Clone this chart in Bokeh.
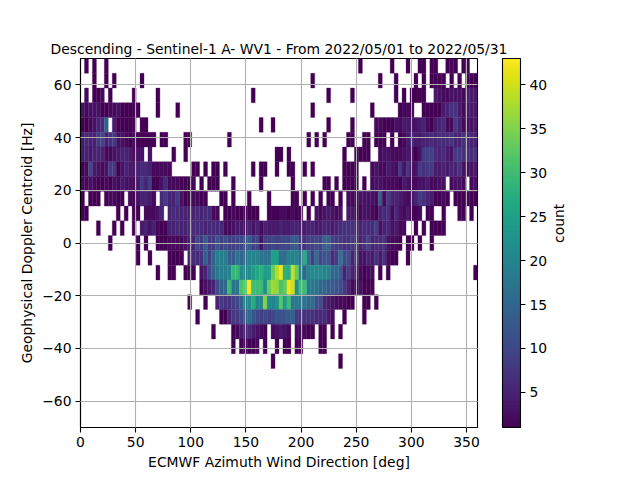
import math
import numpy as np
from bokeh.embed import file_html
from bokeh.resources import INLINE
from bokeh.plotting import figure
from bokeh.models import (ColorBar, ColumnDataSource, FixedTicker, LinearAxis,
                          LinearColorMapper)
from bokeh.palettes import Viridis256

X_TICKS = [0, 50, 100, 150, 200, 250, 300, 350]
Y_TICKS = [-60, -40, -20, 0, 20, 40, 60]
CBAR_TICKS = [5, 10, 15, 20, 25, 30, 35, 40]
TITLE = "Descending - Sentinel-1 A- WV1 - From 2022/05/01 to 2022/05/31"
XLABEL = "ECMWF Azimuth Wind Direction [deg]"
YLABEL = "Geophysical Doppler Centroid [Hz]"
CBAR_LABEL = "count"

x_min, x_max, n_x = 0, 360, 100
y_min, y_max, n_y = -70, 70, 25

# counts by row, from the top row of bins downwards; 0 = empty bin
Z0 = [0]*10
row_00 = [0,1,0,1,0,0,1,0,0,0]+Z0*6+[1,0,0,0,0,0,0,0,1,0, 0,0,1,0,0,1,1,0,1,1, 0,0,1,2,1,0,1,1,0,0]
row_01 = [0,0,0,1,0,0,1,0,1,0, 0,0,0,0,0,1,0,0,0,0]+Z0*3+[0,0,0,0,0,0,0,0,1,0]+Z0+[0,0,0,0,0,1,0,0,0,1, 0,0,0,0,1,0,1,0,1,1, 1,1,0,1,0,1,0,1,1,1]
row_02 = [0,2,0,1,1,2,0,1,0,0, 0,0,0,1,0,0,0,0,0,1]+Z0*2+[0,0,0,1,0,0,0,0,0,0]+Z0+[0,0,1,0,0,0,0,0,1,0, 0,0,0,0,0,0,0,0,0,1, 0,1,0,1,1,1,1,0,0,4, 3,2,2,3,3,3,2,4,4,4]
row_03 = [3,2,3,3,3,1,1,2,2,3, 1,1,1,1,1,0,0,0,0,1, 0,0,0,0,1,0,0,0,0,0]+Z0*2+[0,0,0,0,0,0,0,0,1,0]+Z0+[0,0,0,1,0,0,0,0,0,0, 1,2,2,1,0,0,1,1,1,1, 1,4,5,7,7,4,2,3,4,4]
row_04 = [1,1,2,3,5,6,14,0,4,1, 1,1,1,1,0,1,1,0,0,0]+Z0*2+[0,0,0,0,0,1,0,0,1,0]+Z0+[0,0,1,0,0,0,0,0,1,0, 0,0,0,0,2,2,1,1,1,3, 2,4,4,3,3,4,5,2,1,4, 5,6,2,2,8,5,2,2,3,4]
row_05 = [4,6,5,5,8,10,5,7,8,3, 3,2,1,2,1,1,1,1,1,0, 1,1,0,0,0,0,1,1,0,0, 0,0,0,0,0,0,0,1,0,0]+Z0+[0,0,0,0,0,0,0,1,0,1, 0,1,0,0,0,0,0,1,1,0, 0,1,1,0,1,1,1,0,1,0, 1,2,4,6,4,4,5,5,6,5, 6,6,6,7,5,5,7,5,5,5]
row_06 = [4,5,4,5,5,5,2,2,3,4, 5,5,4,2,3,3,0,3,0,0, 0,0,0,1,0,0,1,0,0,0]+Z0+[0,0,0,0,0,0,0,0,0,1, 1,0,1,0,0,0,0,0,0,0, 0,0,0,0,0,0,1,0,0,1, 1,1,1,0,0,2,3,3,2,2, 2,3,4,3,1,3,8,9,9,6, 5,6,4,3,8,8,7,6,6,7]
row_07 = [1,2,10,4,3,2,3,8,8,1, 3,5,4,3,5,6,6,5,2,2, 2,2,2,0,0,0,0,0,1,1, 0,1,0,1,1,0,1,0,0,0, 0,0,0,1,0,1,1,0,0,1, 0,0,1,1,0,0,1,0,1,0, 0,0,0,0,0,0,1,1,1,1, 0,0,0,2,3,2,2,4,3,2, 8,3,8,3,3,8,7,8,8,4, 4,5,4,5,5,7,3,2,3,4]
row_08 = [2,2,3,2,1,1,2,1,3,2, 4,3,3,2,4,8,5,9,1,1, 3,6,2,2,2,1,1,1,2,0, 1,0,1,1,1,0,0,0,1,0, 0,0,0,0,0,1,0,0,0,0, 0,0,0,1,0,0,0,0,0,0, 0,1,1,0,1,0,1,1,1,1, 0,1,0,2,3,3,2,2,2,2, 1,4,3,2,2,3,3,4,2,2, 3,3,0,2,3,3,2,0,2,3]
row_09 = [1,0,1,1,1,0,1,2,2,1, 1,0,2,1,3,5,5,4,2,0, 6,8,5,5,8,3,1,1,2,2, 1,1,0,0,0,1,1,0,1,0, 0,0,1,0,0,0,0,1,0,0, 0,0,0,1,1,0,1,0,1,0, 1,0,1,1,0,1,0,2,2,2, 3,3,3,3,2,13,2,8,5,5, 4,3,2,3,5,8,7,5,4,1, 1,2,1,0,1,1,1,1,1,1]
row_10 = [1,1,0,0,0,0,0,0,0,1, 0,1,0,1,1,0,2,2,2,3, 5,0,5,6,6,5,5,5,5,6, 5,6,6,2,2,0,1,1,2,1, 1,2,1,1,1,0,0,1,1,1, 2,2,1,2,1,1,0,1,0,3, 2,3,4,3,2,3,0,4,4,2, 2,3,3,2,1,5,6,7,2,6, 3,2,4,1,1,2,0,1,1,0, 0,1,0,0,0,1,1,0,1,0]
row_11 = [0,0,0,0,1,0,0,0,1,0, 1,0,0,1,0,4,5,3,5,2, 1,1,5,5,6,5,5,6,6,6, 6,5,6,6,6,6,2,2,3,4, 4,3,5,3,5,2,5,4,4,4, 5,4,4,5,5,4,4,5,5,4, 4,5,5,4,5,6,7,7,7,5, 5,6,6,6,9,3,5,6,3,4, 2,2,0,0,1,0,1,0,1,1, 1,1,0,0,0,0,0,0,0,0]
row_12 = [0,0,0,0,0,0,0,1,0,0, 0,0,0,0,1,0,1,0,0,1, 1,1,2,2,2,2,3,4,5,10, 8,13,8,8,12,9,11,9,9,10, 10,11,13,9,10,3,9,9,10,9, 10,10,10,13,13,8,7,9,9,10, 9,14,14,9,8,8,7,7,8,7, 5,6,9,5,6,6,7,3,2,2, 1,0,1,1,0,1,0,0,1,0]+Z0
row_13 = Z0+[0,0,0,0,1,0,0,1,0,0, 0,0,1,1,1,1,0,5,6,6, 7,14,9,14,19,19,19,13,13,17, 15,15,20,20,20,17,17,17,25,25, 16,16,20,20,20,16,27,16,9,16, 10,12,12,6,8,17,11,11,5,9, 3,3,5,4,7,4,7,2,1,1, 0,0,1,0,0,0,0,0,0,0]+Z0
row_14 = Z0+[0,0,0,0,0,0,0,0,0,1, 0,0,1,1,0,0,1,1,1,0, 3,5,10,14,18,19,19,20,29,29, 21,21,21,24,26,28,24,24,33,38, 42,28,27,39,33,20,15,20,21,21, 21,20,20,15,15,14,5,9,5,5, 2,1,2,2,0,1,0,1,0,0]+Z0+[0,0,0,0,0,0,0,0,0,1]
row_15 = Z0*3+[1,3,4,5,11,14,15,30,17,17, 31,32,43,30,30,30,22,33,37,36, 31,33,42,40,22,30,30,18,18,17, 15,15,13,13,12,11,8,5,2,2, 3,1,1,1,0,0,0,0,0,0]+Z0*2
row_16 = Z0*2+[0,0,0,0,0,0,0,1,0,0, 0,1,0,0,5,8,7,7,9,10, 14,20,21,27,20,20,35,21,20,22, 32,24,30,18,18,17,17,15,16,11, 11,5,4,3,2,2,2,1,1,0, 0,1,1,0,1,0,0,0,0,0]+Z0*2
row_17 = Z0*2+[0,0,0,0,0,0,0,0,0,1, 0,0,0,0,0,1,1,5,8,8, 10,12,16,12,10,9,10,9,10,12, 12,12,13,14,8,7,7,7,7,6, 6,6,4,2,0,0,1,0,0,0, 0,1,0,0,0,0,0,0,0,0]+Z0*2
row_18 = Z0*3+[0,0,0,1,0,0,0,0,1,2, 4,5,6,4,3,2,1,0,2,3, 4,3,2,0,2,2,2,1,1,0, 1,1,0,1,0,1,0,0,0,0]+Z0*3
row_19 = Z0*3+[0,0,0,0,0,0,0,0,1,0, 1,2,1,1,2,0,1,0,0,1, 0,1,1,0,1,1,0,0,0,0, 1,1,0,0,0,0,0,0,0,0]+Z0*3
row_20 = Z0*4+[0,0,0,0,0,0,0,0,1,0]+Z0+[0,0,0,0,0,1,0,0,0,0]+Z0*3
row_21 = Z0*10
row_22 = Z0*10
row_23 = Z0*10
row_24 = Z0*10

rows = [row_00, row_01, row_02, row_03, row_04, row_05, row_06, row_07, row_08,
        row_09, row_10, row_11, row_12, row_13, row_14, row_15, row_16, row_17,
        row_18, row_19, row_20, row_21, row_22, row_23, row_24]

x_edges = np.linspace(x_min, x_max, n_x + 1)
y_edges = np.linspace(y_max, y_min, n_y + 1)

left, right, top, bottom, count = [], [], [], [], []
for r, row in enumerate(rows):
    assert len(row) == n_x, (r, len(row))
    for c, v in enumerate(row):
        if v > 0:
            left.append(x_edges[c]); right.append(x_edges[c + 1])
            top.append(y_edges[r]); bottom.append(y_edges[r + 1])
            count.append(v)
source = ColumnDataSource(dict(left=left, right=right, top=top, bottom=bottom, count=count))

FONT = "DejaVu Sans"
SIZE = "13.9px"
mapper = LinearColorMapper(palette=Viridis256, low=1, high=43)

p = figure(frame_width=397, frame_height=369, min_border_left=80, min_border_right=160,
           min_border_top=58, min_border_bottom=50, x_range=(x_min, x_max), y_range=(y_min, y_max),
           output_backend="svg", toolbar_location=None, title=TITLE)

p.quad(left="left", right="right", top="top", bottom="bottom", source=source,
       fill_color={"field": "count", "transform": mapper},
       line_color={"field": "count", "transform": mapper}, line_width=0.3)

p.title.text_font = FONT
p.title.text_font_size = SIZE
p.title.text_font_style = "normal"
p.title.text_color = "black"
p.title.align = "center"
p.title.standoff = 4

p.outline_line_color = "black"
p.outline_line_width = 1.1
p.outline_line_alpha = 1
p.background_fill_color = "white"

for ax in (p.xaxis[0], p.yaxis[0]):
    ax.axis_label_text_font = FONT
    ax.axis_label_text_font_size = SIZE
    ax.axis_label_text_font_style = "normal"
    ax.axis_label_text_color = "black"
    ax.major_label_text_font = FONT
    ax.major_label_text_font_size = SIZE
    ax.major_label_text_color = "black"
    ax.major_tick_out = 5
    ax.major_tick_in = 0
    ax.minor_tick_out = 0
    ax.minor_tick_in = 0
    ax.major_tick_line_width = 1.1
    ax.major_tick_line_color = "black"
    ax.axis_line_color = "black"
    ax.axis_line_width = 1.1

p.xaxis[0].ticker = FixedTicker(ticks=X_TICKS)
p.yaxis[0].ticker = FixedTicker(ticks=Y_TICKS)
p.xaxis[0].axis_label = XLABEL
p.yaxis[0].axis_label = YLABEL
p.yaxis[0].major_label_overrides = {t: str(t).replace("-", "\u2212") for t in Y_TICKS}
p.xaxis[0].major_label_standoff = 4
p.yaxis[0].major_label_standoff = 4
p.xaxis[0].axis_label_standoff = 4
p.yaxis[0].axis_label_standoff = 4

for g in (p.xgrid[0], p.ygrid[0]):
    g.grid_line_color = "#b0b0b0"
    g.grid_line_width = 1.1
    g.level = "overlay"
p.xgrid[0].ticker = FixedTicker(ticks=X_TICKS)
p.ygrid[0].ticker = FixedTicker(ticks=Y_TICKS)

cb = ColorBar(color_mapper=mapper, ticker=FixedTicker(ticks=CBAR_TICKS), width=18, height=369,
              margin=0, padding=0, major_tick_in=0, major_tick_out=5,
              major_tick_line_color="black", major_tick_line_width=1.1,
              bar_line_color="black", bar_line_width=1.1, border_line_color=None,
              background_fill_color=None,
              major_label_text_font=FONT, major_label_text_font_size=SIZE,
              major_label_text_color="black", label_standoff=4, location=(25, 0))
p.add_layout(cb, "right")

count_axis = LinearAxis(axis_label=CBAR_LABEL, ticker=FixedTicker(ticks=[]), axis_line_color=None,
                        major_tick_line_color=None, minor_tick_line_color=None,
                        axis_label_text_font=FONT, axis_label_text_font_size=SIZE,
                        axis_label_text_font_style="normal", axis_label_text_color="black",
                        axis_label_standoff=8)
if hasattr(count_axis, "axis_label_orientation"):
    count_axis.axis_label_orientation = math.pi / 2
p.add_layout(count_axis, "right")

open("out.html", "w").write(file_html(p, INLINE))
